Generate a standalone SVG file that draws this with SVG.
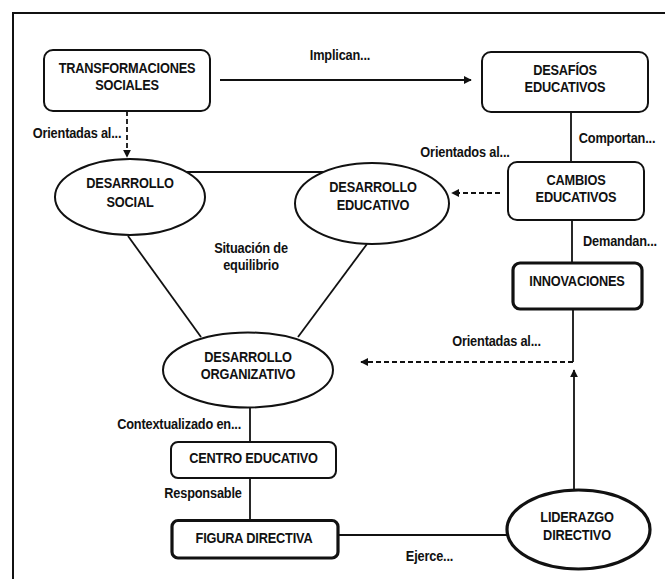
<svg xmlns="http://www.w3.org/2000/svg" width="665" height="579" viewBox="0 0 665 579">
<defs>
<marker id="ah" viewBox="0 0 10 10" refX="9" refY="5" markerWidth="8" markerHeight="8" markerUnits="userSpaceOnUse" orient="auto">
<path d="M0,0 L10,5 L0,10 z" fill="#111"/>
</marker>
<style>
text{font-family:"Liberation Sans",Arial,sans-serif;font-weight:bold;font-size:14.5px;letter-spacing:-0.2px;fill:#111;text-anchor:middle}
.box{fill:#fff;stroke:#111;stroke-width:2}
.thick{fill:#fff;stroke:#111;stroke-width:3.2}
.ln{fill:none;stroke:#111;stroke-width:1.8}
.dash{fill:none;stroke:#111;stroke-width:1.8;stroke-dasharray:5 3}
</style>
</defs>
<rect x="0" y="0" width="665" height="579" fill="#fff"/>
<rect x="13" y="13" width="700" height="700" fill="none" stroke="#111" stroke-width="2"/>

<g id="connectors">
<line class="ln" x1="220" y1="80" x2="471" y2="80" marker-end="url(#ah)"/>
<line class="dash" x1="127" y1="111" x2="127" y2="157" marker-end="url(#ah)"/>
<line class="ln" x1="187" y1="172" x2="323" y2="172"/>
<line class="ln" x1="571" y1="112" x2="571" y2="162"/>
<line class="dash" x1="500" y1="193" x2="452" y2="193" marker-end="url(#ah)"/>
<line class="ln" x1="572" y1="220" x2="572" y2="263"/>
<line class="ln" x1="128" y1="236" x2="201" y2="337"/>
<line class="ln" x1="367" y1="244" x2="298" y2="337"/>
<polyline class="ln" points="573,309 573,362"/>
<line class="dash" x1="573" y1="362" x2="361" y2="362" marker-end="url(#ah)"/>
<line class="ln" x1="574" y1="490" x2="574" y2="370" marker-end="url(#ah)"/>
<line class="ln" x1="250" y1="407" x2="250" y2="442"/>
<line class="ln" x1="250" y1="478" x2="250" y2="520"/>
<line class="ln" x1="338" y1="535" x2="507" y2="535"/>
<text transform="translate(340,59.5) scale(0.88,1)">Implican...</text>
<text transform="translate(77,138) scale(0.88,1)">Orientadas al...</text>
<text transform="translate(617,143) scale(0.88,1)">Comportan...</text>
<text transform="translate(465,156.5) scale(0.88,1)">Orientados al...</text>
<text transform="translate(620,245.5) scale(0.88,1)">Demandan...</text>
<text transform="translate(251,252.5) scale(0.88,1)">Situación de</text>
<text transform="translate(251,270) scale(0.88,1)">equilibrio</text>
<text transform="translate(496.5,346) scale(0.88,1)">Orientadas al...</text>
<text transform="translate(241,429) scale(0.88,1)" style="text-anchor:end">Contextualizado en...</text>
<text transform="translate(203,498) scale(0.88,1)">Responsable</text>
<text transform="translate(429.5,561) scale(0.88,1)">Ejerce...</text>
</g>

<g id="transformaciones">
<rect class="box" x="44" y="50" width="166" height="61" rx="9"/>
<text transform="translate(127,73) scale(0.88,1)">TRANSFORMACIONES</text>
<text transform="translate(127,90) scale(0.88,1)">SOCIALES</text>
</g>
<g id="desafios">
<rect class="box" x="482" y="52" width="166" height="60" rx="9"/>
<text transform="translate(565,75) scale(0.88,1)">DESAFÍOS</text>
<text transform="translate(565,92) scale(0.88,1)">EDUCATIVOS</text>
</g>
<g id="des-social">
<ellipse class="box" cx="130" cy="197" rx="75" ry="38"/>
<text transform="translate(130,188) scale(0.88,1)">DESARROLLO</text>
<text transform="translate(130,206.5) scale(0.88,1)">SOCIAL</text>
</g>
<g id="des-educativo">
<ellipse class="box" cx="372" cy="203.5" rx="77" ry="40.5"/>
<text transform="translate(373,191.5) scale(0.88,1)">DESARROLLO</text>
<text transform="translate(373,210) scale(0.88,1)">EDUCATIVO</text>
</g>
<g id="cambios">
<rect class="box" x="508" y="162" width="136" height="58" rx="9"/>
<text transform="translate(576,185) scale(0.88,1)">CAMBIOS</text>
<text transform="translate(576,202) scale(0.88,1)">EDUCATIVOS</text>
</g>
<g id="innovaciones">
<rect class="thick" x="513" y="263" width="129" height="46" rx="7"/>
<text transform="translate(577,285.5) scale(0.88,1)">INNOVACIONES</text>
</g>
<g id="des-organizativo">
<ellipse class="box" cx="248" cy="370" rx="85" ry="37.5"/>
<text transform="translate(248,361.5) scale(0.88,1)">DESARROLLO</text>
<text transform="translate(248,379) scale(0.88,1)">ORGANIZATIVO</text>
</g>
<g id="centro">
<rect class="box" x="171" y="442" width="165" height="36" rx="7"/>
<text transform="translate(253.5,463) scale(0.88,1)">CENTRO EDUCATIVO</text>
</g>
<g id="figura">
<rect class="thick" x="172" y="520.5" width="166" height="37.5" rx="6"/>
<text transform="translate(254,542.5) scale(0.88,1)">FIGURA DIRECTIVA</text>
</g>
<g id="liderazgo">
<ellipse class="thick" cx="578.5" cy="529.5" rx="71.5" ry="39.5"/>
<text transform="translate(577,522) scale(0.88,1)">LIDERAZGO</text>
<text transform="translate(577,540) scale(0.88,1)">DIRECTIVO</text>
</g>
</svg>
